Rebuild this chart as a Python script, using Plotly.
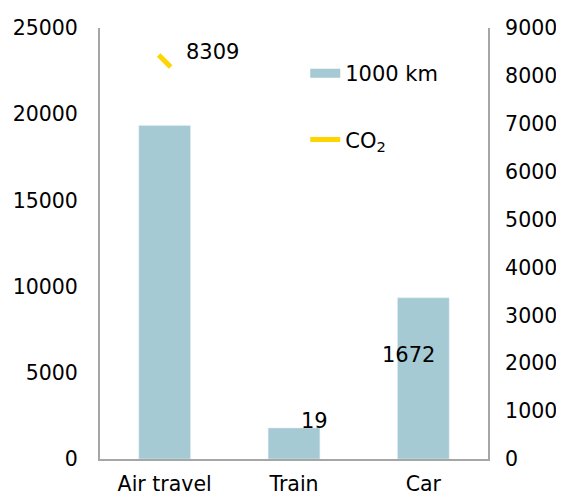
import plotly.graph_objects as go

categories = ["Air travel", "Train", "Car"]
km_1000 = [19350, 1800, 9350]
co2 = [8309, 19, 1672]
label_xshift = [48, 20, -15]
label_yshift = [9, 37, 24]

BAR = "#A5CAD3"
YEL = "#FFD500"
AX = "#A6A6A6"
FONT = dict(family="DejaVu Sans, Verdana, sans-serif", size=21, color="#000000")
TICKFONT = dict(family="DejaVu Sans, Verdana, sans-serif", size=20.5, color="#000000")

fig = go.Figure()
fig.add_trace(go.Bar(
    x=categories, y=km_1000, yaxis="y2", name="1000 km",
    marker=dict(color=BAR), width=0.4, showlegend=False))
fig.add_trace(go.Scatter(
    x=categories, y=co2, yaxis="y", mode="markers", name="CO<sub>2</sub>",
    marker=dict(symbol="line-nw", size=12, color=YEL, line=dict(color=YEL, width=5)),
    showlegend=False))
# legend entries
fig.add_trace(go.Scatter(
    x=[categories[0]], y=[None], yaxis="y2", mode="lines", name="1000 km",
    line=dict(color=BAR, width=9), legendgroup="a"))
fig.add_trace(go.Scatter(
    x=[categories[0]], y=[None], yaxis="y", mode="lines", name="CO<sub>2</sub>",
    line=dict(color=YEL, width=5), legendgroup="b"))

for c, v, dx, dy in zip(categories, co2, label_xshift, label_yshift):
    fig.add_annotation(x=c, y=v, xref="x", yref="y", text=str(v), showarrow=False,
                       xshift=dx, yshift=dy, font=FONT)

fig.update_layout(
    width=556, height=486,
    margin=dict(l=92, r=76, t=20, b=35, autoexpand=False),
    paper_bgcolor="white", plot_bgcolor="white",
    font=FONT,
    showlegend=True,
    legend=dict(x=0.529, y=0.942, xanchor="left", yanchor="top", bgcolor="rgba(0,0,0,0)",
                traceorder="grouped", tracegroupgap=36, font=FONT),
    xaxis=dict(showgrid=False, showline=True, linecolor=AX, linewidth=2,
               ticks="", ticklabelstandoff=5, tickfont=TICKFONT, automargin=False),
    yaxis=dict(range=[0, 9000], dtick=1000, side="right", showgrid=False, showline=True,
               linecolor=AX, linewidth=2, ticks="", ticklabelstandoff=11, tickformat="d",
               tickfont=TICKFONT, zeroline=False, automargin=False),
    yaxis2=dict(range=[0, 25000], dtick=5000, side="left", overlaying="y", showgrid=False,
                showline=True, linecolor=AX, linewidth=2, ticks="", ticklabelstandoff=16,
                tickformat="d", tickfont=TICKFONT, zeroline=False, automargin=False),
)

fig.write_html("out.html")
